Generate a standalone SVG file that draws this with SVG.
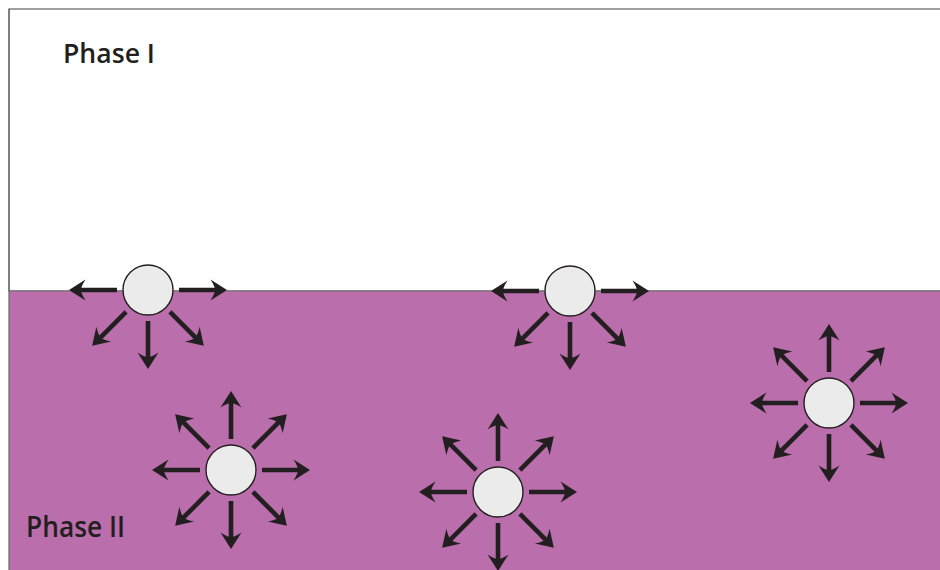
<svg xmlns="http://www.w3.org/2000/svg" xmlns:xlink="http://www.w3.org/1999/xlink" width="940" height="570" viewBox="0 0 940 570">
  <style>
    .label { font-family: "Open Sans", "Liberation Sans", sans-serif; font-weight: 600; fill: #231F20; }
    .bubble { fill: #EBEBEB; stroke: #231F20; stroke-width: 1.4; }
    .shaft { stroke: #231F20; stroke-width: 4.6; fill: none; }
    .head { fill: #231F20; }
  </style>
  <defs>
    <g id="arrow">
      <line class="shaft" x1="31" y1="0" x2="68" y2="0"/>
      <path class="head" d="M79,0 L62.5,-10.5 Q67,-3.5 67,0 Q67,3.5 62.5,10.5 Z"/>
    </g>
  </defs>
  <rect x="0" y="0" width="940" height="570" fill="#FFFFFF"/>
  <g id="phase1">
    <rect x="9" y="9" width="940" height="282" fill="#FFFFFF" stroke="#6D6D6D" stroke-width="1.3"/>
    <text class="label" x="63" y="63" font-size="27" textLength="92" lengthAdjust="spacingAndGlyphs">Phase I</text>
  </g>
  <g id="phase2">
    <rect x="9" y="291" width="931" height="279" fill="#BA6EAC"/>
    <line x1="9" y1="291" x2="940" y2="291" stroke="#6D6D6D" stroke-width="1"/>
    <line x1="9" y1="9" x2="9" y2="570" stroke="#6D6D6D" stroke-width="1.3"/>
    <text class="label" x="26" y="537" font-size="28.5" textLength="99" lengthAdjust="spacingAndGlyphs">Phase II</text>
  </g>
  <g id="connectors">
    <g transform="translate(148,290)">
      <use xlink:href="#arrow" transform="rotate(0)"/>
      <use xlink:href="#arrow" transform="rotate(45)"/>
      <use xlink:href="#arrow" transform="rotate(90)"/>
      <use xlink:href="#arrow" transform="rotate(135)"/>
      <use xlink:href="#arrow" transform="rotate(180)"/>
    </g>
    <g transform="translate(570,291)">
      <use xlink:href="#arrow" transform="rotate(0)"/>
      <use xlink:href="#arrow" transform="rotate(45)"/>
      <use xlink:href="#arrow" transform="rotate(90)"/>
      <use xlink:href="#arrow" transform="rotate(135)"/>
      <use xlink:href="#arrow" transform="rotate(180)"/>
    </g>
    <g transform="translate(231,470)">
      <use xlink:href="#arrow" transform="rotate(0)"/>
      <use xlink:href="#arrow" transform="rotate(45)"/>
      <use xlink:href="#arrow" transform="rotate(90)"/>
      <use xlink:href="#arrow" transform="rotate(135)"/>
      <use xlink:href="#arrow" transform="rotate(180)"/>
      <use xlink:href="#arrow" transform="rotate(225)"/>
      <use xlink:href="#arrow" transform="rotate(270)"/>
      <use xlink:href="#arrow" transform="rotate(315)"/>
    </g>
    <g transform="translate(498,492)">
      <use xlink:href="#arrow" transform="rotate(0)"/>
      <use xlink:href="#arrow" transform="rotate(45)"/>
      <use xlink:href="#arrow" transform="rotate(90)"/>
      <use xlink:href="#arrow" transform="rotate(135)"/>
      <use xlink:href="#arrow" transform="rotate(180)"/>
      <use xlink:href="#arrow" transform="rotate(225)"/>
      <use xlink:href="#arrow" transform="rotate(270)"/>
      <use xlink:href="#arrow" transform="rotate(315)"/>
    </g>
    <g transform="translate(829,403)">
      <use xlink:href="#arrow" transform="rotate(0)"/>
      <use xlink:href="#arrow" transform="rotate(45)"/>
      <use xlink:href="#arrow" transform="rotate(90)"/>
      <use xlink:href="#arrow" transform="rotate(135)"/>
      <use xlink:href="#arrow" transform="rotate(180)"/>
      <use xlink:href="#arrow" transform="rotate(225)"/>
      <use xlink:href="#arrow" transform="rotate(270)"/>
      <use xlink:href="#arrow" transform="rotate(315)"/>
    </g>
  </g>
  <g id="bubble-1"><circle class="bubble" cx="148" cy="290" r="25"/></g>
  <g id="bubble-2"><circle class="bubble" cx="570" cy="291" r="25"/></g>
  <g id="bubble-3"><circle class="bubble" cx="231" cy="470" r="25"/></g>
  <g id="bubble-4"><circle class="bubble" cx="498" cy="492" r="25"/></g>
  <g id="bubble-5"><circle class="bubble" cx="829" cy="403" r="25"/></g>
</svg>
